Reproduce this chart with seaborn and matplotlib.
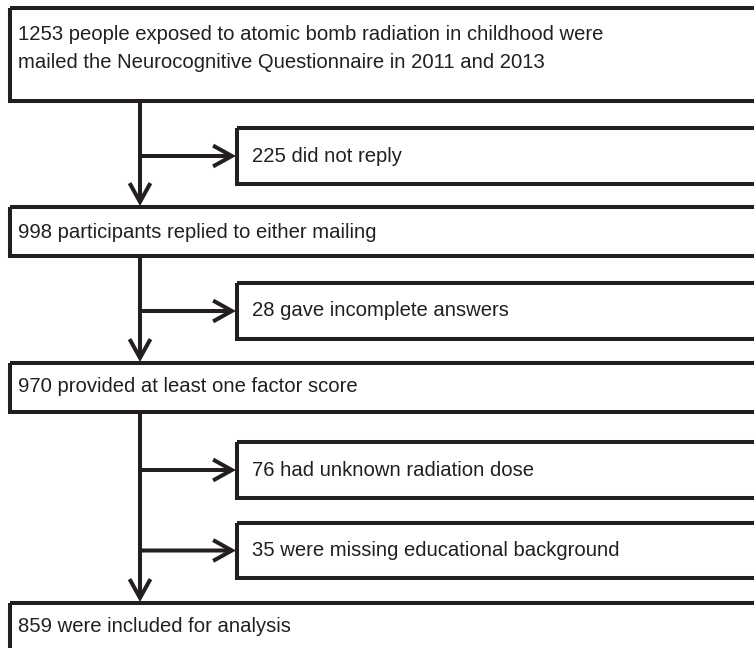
import matplotlib
matplotlib.use("Agg")
import matplotlib.pyplot as plt
from matplotlib.patches import Rectangle, FancyArrowPatch
import seaborn as sns

# Flowchart content
main_counts = [1253, 998, 970, 859]
main_texts = [
    "people exposed to atomic bomb radiation in childhood were\nmailed the Neurocognitive Questionnaire in 2011 and 2013",
    "participants replied to either mailing",
    "provided at least one factor score",
    "were included for analysis",
]
side_counts = [225, 28, 76, 35]
side_texts = [
    "did not reply",
    "gave incomplete answers",
    "had unknown radiation dose",
    "were missing educational background",
]

# layout in pixels (top origin)
main_top = [8, 207, 363, 603]
main_bottom = [101, 256, 412, 700]
main_text_y = [[35, 63], [232], [387], [627]]
side_top = [128, 283, 442, 523]
side_bottom = [184, 339, 498, 578]
left_x = 10
side_x = 237
trunk_x = 140
lw = 2.9
col = "#231f20"

sns.set_style("white")
plt.rcParams["font.family"] = ["Liberation Sans", "DejaVu Sans"]

fig = plt.figure(figsize=(7.54, 6.48), dpi=100)
ax = fig.add_axes([0, 0, 1, 1])
ax.set_xlim(0, 754)
ax.set_ylim(648, 0)
ax.axis("off")

fs = 14.6


def arrow(x0, y0, x1, y1):
    ax.add_patch(FancyArrowPatch((x0, y0), (x1, y1),
                                 arrowstyle="->,head_length=13.5,head_width=7.5",
                                 mutation_scale=1, lw=lw, color=col,
                                 shrinkA=0, shrinkB=0, capstyle="butt",
                                 joinstyle="miter"))


for i, (n, t) in enumerate(zip(main_counts, main_texts)):
    top, bot = main_top[i], main_bottom[i]
    ax.add_patch(Rectangle((left_x, top), 900, bot - top, fill=False,
                           lw=lw, ec=col, joinstyle="miter"))
    lines = f"{n} {t}".split("\n")
    for line, y in zip(lines, main_text_y[i]):
        ax.text(18, y, line, fontsize=fs, va="center", ha="left", color=col)

for i, (n, t) in enumerate(zip(side_counts, side_texts)):
    top, bot = side_top[i], side_bottom[i]
    ax.add_patch(Rectangle((side_x, top), 900, bot - top, fill=False,
                           lw=lw, ec=col, joinstyle="miter"))
    mid = (top + bot) / 2
    ax.text(252, mid, f"{n} {t}", fontsize=fs, va="center", ha="left", color=col)
    arrow(trunk_x, mid, side_x - 1, mid)

# vertical trunks between main boxes
for i in range(3):
    arrow(trunk_x, main_bottom[i], trunk_x, main_top[i + 1] - 1)

fig.savefig("out.png", dpi=100)
